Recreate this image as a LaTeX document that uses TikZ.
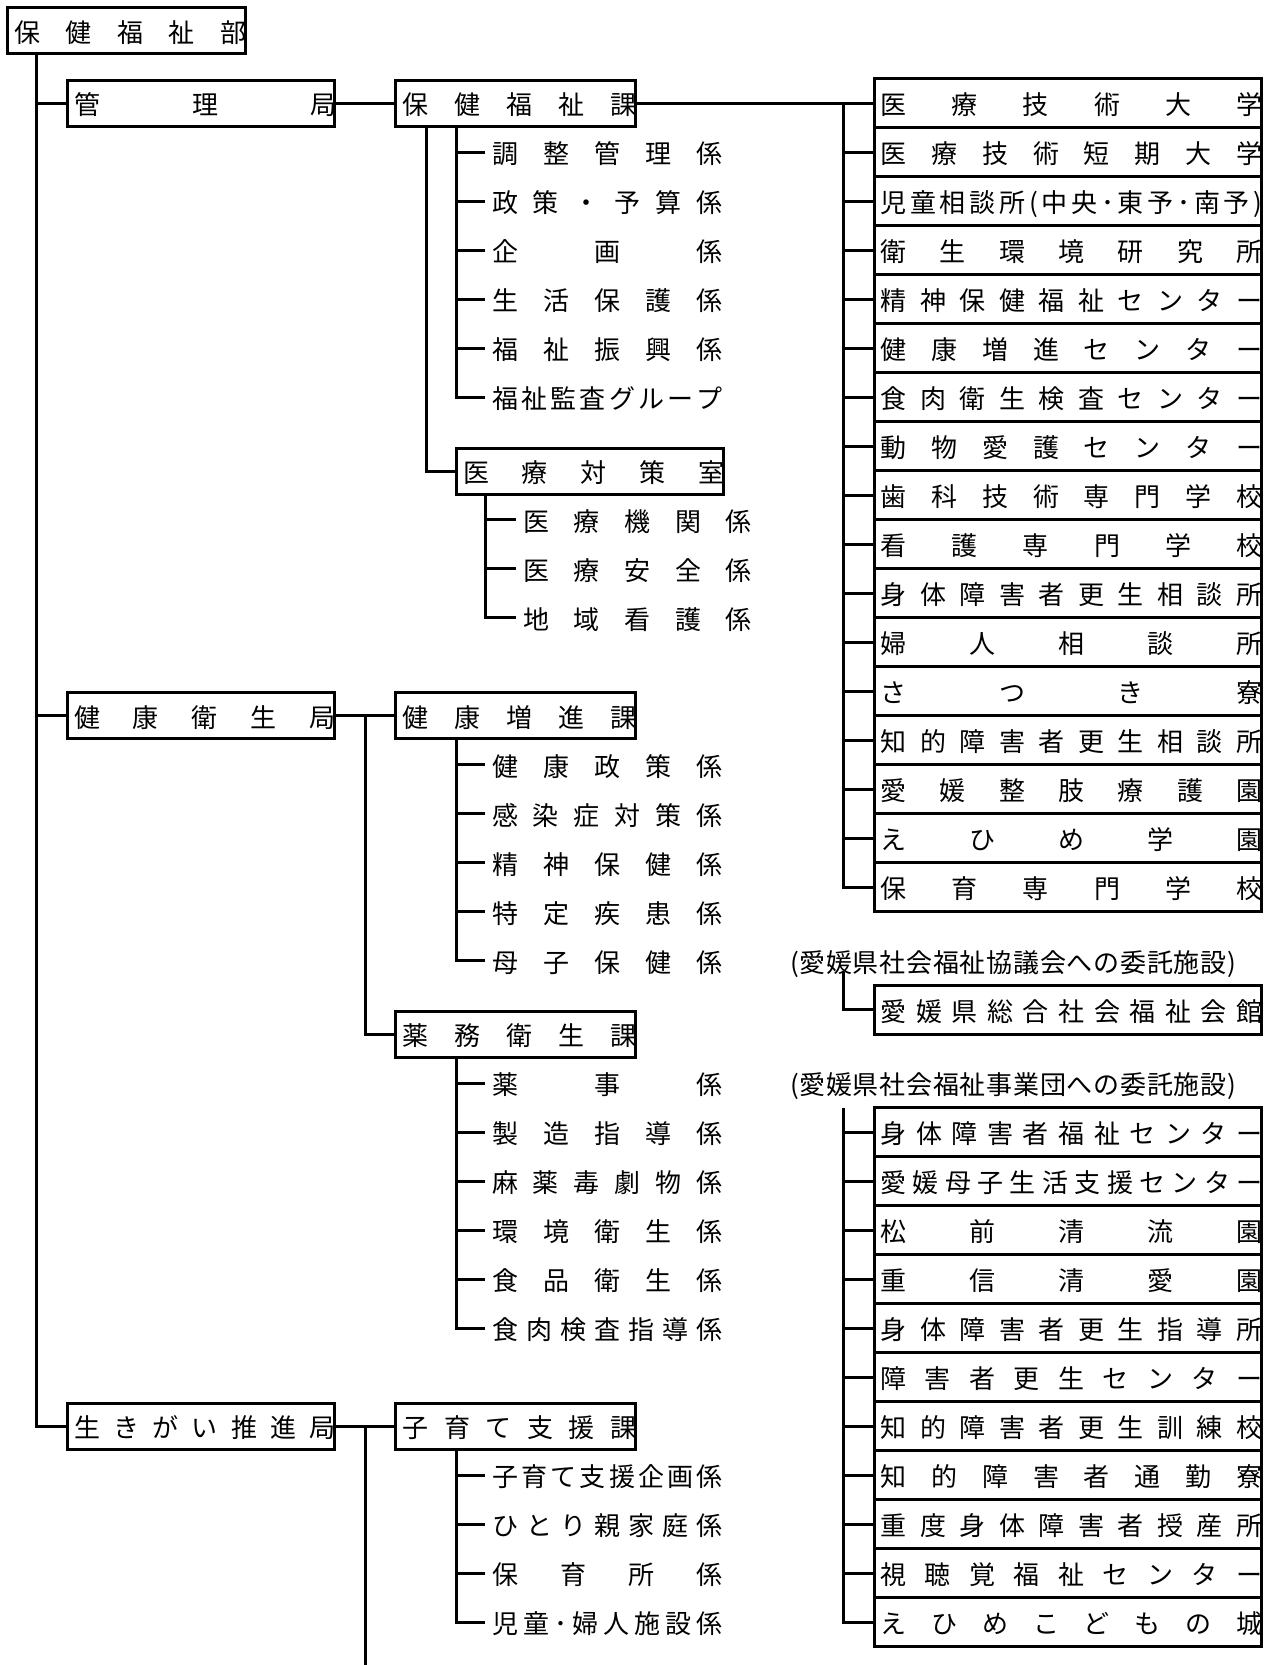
\documentclass[tikz,border=0pt]{standalone}
\usepackage{fontspec}
\setmainfont{Noto Sans CJK JP}
\usetikzlibrary{calc}
\newcommand\spreadtxt[2]{\makebox[#1][s]{\expandafter\spreadloop#2\relax}}
\def\spreadloop#1#2\relax{#1\ifx\relax#2\relax\else\hfill\spreadloop#2\relax\fi}
% box text: #1 box width px, #2 left inset px, #3 text
\newcommand\boxtxt[3]{\makebox[\dimexpr #1pt/2\relax][l]{\hspace*{\dimexpr #2pt/2\relax}\spreadtxt{\dimexpr (#1pt-#2pt+1.5pt)/2\relax}{#3}}}
% list item: #1 width px, #2 text
\newcommand\itm[2]{\spreadtxt{\dimexpr #1pt/2\relax}{#2}}
\tikzset{
  txt/.style={inner sep=0pt, outer sep=0pt, anchor=west, font=\fontsize{13pt}{15pt}\selectfont, text height=13.2pt, text depth=1.6pt},
  lbox/.style={txt, minimum height=23pt},
  rbox/.style={txt, minimum height=24.5pt},
  frame/.style={line width=1.5pt},
  conn/.style={line width=1.5pt},
}
\begin{document}
\begin{tikzpicture}[x=0.5pt,y=-0.5pt]
\useasboundingbox (0,0) rectangle (1273,1665);
% ---------- left boxes
\node[lbox] (bu) at (7.5,30.5) {\boxtxt{237.5}{7}{保健福祉部}};
\node[lbox] (kanri) at (67,103) {\boxtxt{267.5}{7}{管理局}};
\node[lbox] (hfk) at (395.5,103) {\boxtxt{239.5}{7}{保健福祉課}};
\node[lbox] (iryo) at (456,471) {\boxtxt{267.5}{7}{医療対策室}};
\node[lbox] (kenkoeisei) at (67,715.5) {\boxtxt{267.5}{7}{健康衛生局}};
\node[lbox] (kenkozoshin) at (395.5,715.5) {\boxtxt{239.5}{7}{健康増進課}};
\node[lbox] (yakumu) at (395.5,1034) {\boxtxt{239.5}{7}{薬務衛生課}};
\node[lbox] (ikigai) at (67,1426) {\boxtxt{267.5}{7}{生きがい推進局}};
\node[lbox] (kosodate) at (395.5,1426) {\boxtxt{239.5}{7}{子育て支援課}};
% ---------- list items
\node[txt] (h1) at (492,152) {\itm{231}{調整管理係}};
\node[txt] (h2) at (492,201) {\itm{231}{政策・予算係}};
\node[txt] (h3) at (492,250) {\itm{231}{企画係}};
\node[txt] (h4) at (492,299) {\itm{231}{生活保護係}};
\node[txt] (h5) at (492,348) {\itm{231}{福祉振興係}};
\node[txt] (h6) at (492,397) {\itm{231}{福祉監査グループ}};
\node[txt] (i1) at (523,519.5) {\itm{229}{医療機関係}};
\node[txt] (i2) at (523,568.5) {\itm{229}{医療安全係}};
\node[txt] (i3) at (523,617.5) {\itm{229}{地域看護係}};
\node[txt] (k1) at (492,764.5) {\itm{231}{健康政策係}};
\node[txt] (k2) at (492,813.5) {\itm{231}{感染症対策係}};
\node[txt] (k3) at (492,862.5) {\itm{231}{精神保健係}};
\node[txt] (k4) at (492,911.5) {\itm{231}{特定疾患係}};
\node[txt] (k5) at (492,960.5) {\itm{231}{母子保健係}};
\node[txt] (y1) at (492,1083) {\itm{231}{薬事係}};
\node[txt] (y2) at (492,1132) {\itm{231}{製造指導係}};
\node[txt] (y3) at (492,1181) {\itm{231}{麻薬毒劇物係}};
\node[txt] (y4) at (492,1230) {\itm{231}{環境衛生係}};
\node[txt] (y5) at (492,1279) {\itm{231}{食品衛生係}};
\node[txt] (y6) at (492,1328) {\itm{231}{食肉検査指導係}};
\node[txt] (c1) at (492,1475) {\itm{231}{子育て支援企画係}};
\node[txt] (c2) at (492,1524) {\itm{231}{ひとり親家庭係}};
\node[txt] (c3) at (492,1573) {\itm{231}{保育所係}};
\node[txt] (c4) at (492,1622) {\itm{231}{児童･婦人施設係}};
% ---------- right column, group 1
\foreach \i/\t in {0/医療技術大学,1/医療技術短期大学,2/児童相談所(中央･東予･南予),3/衛生環境研究所,4/精神保健福祉センター,5/健康増進センター,6/食肉衛生検査センター,7/動物愛護センター,8/歯科技術専門学校,9/看護専門学校,10/身体障害者更生相談所,11/婦人相談所,12/さつき寮,13/知的障害者更生相談所,14/愛媛整肢療護園,15/えひめ学園,16/保育専門学校}
  \node[rbox] (r\i) at (874.5,103+49*\i) {\boxtxt{386.5}{6}{\t}};
% annotations and group 2
\node[txt] (note1) at (790,960.5) {\itm{446}{(愛媛県社会福祉協議会への委託施設)}};
\node[rbox] (kaikan) at (874.5,1009.5) {\boxtxt{386.5}{6}{愛媛県総合社会福祉会館}};
\node[txt] (note2) at (790,1083) {\itm{446}{(愛媛県社会福祉事業団への委託施設)}};
\foreach \i/\t in {0/身体障害者福祉センター,1/愛媛母子生活支援センター,2/松前清流園,3/重信清愛園,4/身体障害者更生指導所,5/障害者更生センター,6/知的障害者更生訓練校,7/知的障害者通勤寮,8/重度身体障害者授産所,9/視聴覚福祉センター,10/えひめこどもの城}
  \node[rbox] (g\i) at (874.5,1132+49*\i) {\boxtxt{386.5}{6}{\t}};
% ---------- frames
\foreach \n in {bu,kanri,hfk,iryo,kenkoeisei,kenkozoshin,yakumu,ikigai,kosodate,kaikan}
  \draw[frame] (\n.north west) rectangle (\n.south east);
\foreach \i in {0,...,16} \draw[frame] (r\i.north west) rectangle (r\i.south east);
\foreach \i in {0,...,10} \draw[frame] (g\i.north west) rectangle (g\i.south east);
% ---------- connectors
\coordinate (trunk) at ($(bu.south west)+(29,0)$);
\draw[conn] (trunk) |- (ikigai.west);
\draw[conn] (trunk |- kanri.west) -- (kanri.west);
\draw[conn] (trunk |- kenkoeisei.west) -- (kenkoeisei.west);
% kanri
\draw[conn] (kanri.east) -- (hfk.west);
\draw[conn] (hfk.east) -- (r0.west);
\coordinate (rt) at ($(r0.west)+(-31.5,0)$);
\draw[conn] (rt) |- (r16.west);
\foreach \i in {1,...,15} \draw[conn] (rt |- r\i.west) -- (r\i.west);
\coordinate (hA) at ($(hfk.south west)+(30.5,0)$);
\draw[conn] (hA) |- (iryo.west);
\coordinate (hB) at ($(hfk.south west)+(60.5,0)$);
\draw[conn] (hB) |- ($(h6.west)+(-7,0)$);
\foreach \i in {1,...,5} \draw[conn] (hB |- h\i.west) -- ($(h\i.west)+(-7,0)$);
\coordinate (iA) at ($(iryo.south west)+(29,0)$);
\draw[conn] (iA) |- ($(i3.west)+(-7,0)$);
\foreach \i in {1,2} \draw[conn] (iA |- i\i.west) -- ($(i\i.west)+(-7,0)$);
% kenko
\draw[conn] (kenkoeisei.east) -- (kenkozoshin.west);
\coordinate (kB) at ($(kenkoeisei.east)+(31,0)$);
\draw[conn] (kB) |- (yakumu.west);
\coordinate (kzB) at ($(kenkozoshin.south west)+(60.5,0)$);
\draw[conn] (kzB) |- ($(k5.west)+(-7,0)$);
\foreach \i in {1,...,4} \draw[conn] (kzB |- k\i.west) -- ($(k\i.west)+(-7,0)$);
\coordinate (yB) at ($(yakumu.south west)+(60.5,0)$);
\draw[conn] (yB) |- ($(y6.west)+(-7,0)$);
\foreach \i in {1,...,5} \draw[conn] (yB |- y\i.west) -- ($(y\i.west)+(-7,0)$);
% ikigai
\draw[conn] (ikigai.east) -- (kosodate.west);
\coordinate (ikB) at ($(ikigai.east)+(31,0)$);
\coordinate (ikEnd) at ($(ikigai.east)+(31,250)$);
\draw[conn] (ikB) -- (ikEnd);
\coordinate (cB) at ($(kosodate.south west)+(60.5,0)$);
\draw[conn] (cB) |- ($(c4.west)+(-7,0)$);
\foreach \i in {1,...,3} \draw[conn] (cB |- c\i.west) -- ($(c\i.west)+(-7,0)$);
% outsourced facilities
\draw[conn] ($(kaikan.west)+(-31.5,-37.5)$) |- (kaikan.west);
\coordinate (gt) at ($(g0.north west)+(-31.5,0)$);
\draw[conn] (gt) |- (g10.west);
\foreach \i in {0,...,9} \draw[conn] (gt |- g\i.west) -- (g\i.west);
\end{tikzpicture}
\end{document}
